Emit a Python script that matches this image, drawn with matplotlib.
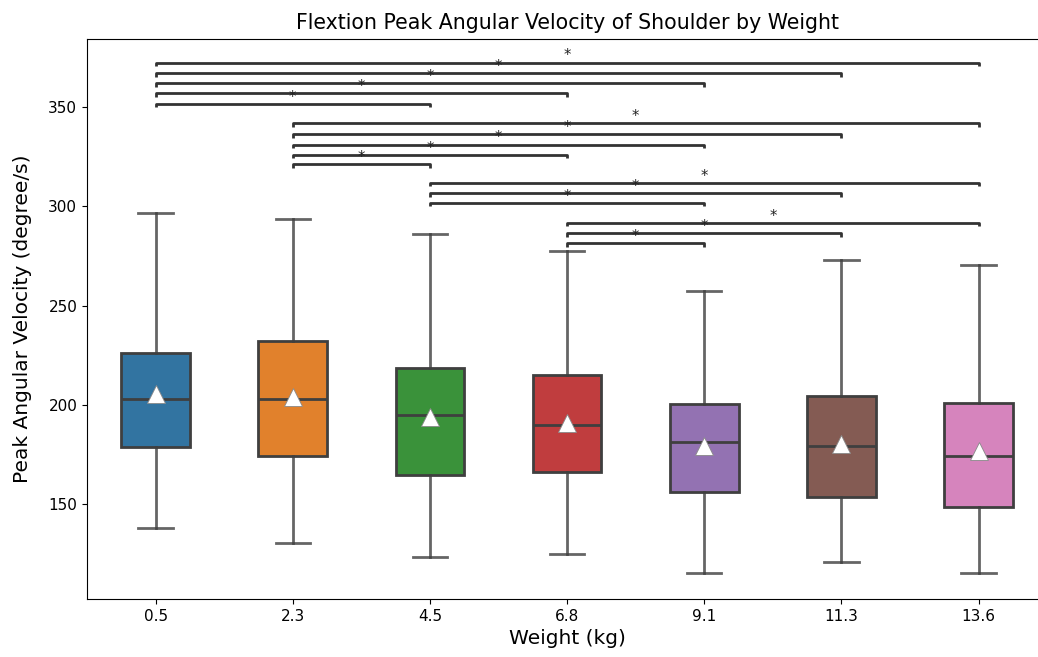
import matplotlib
matplotlib.use("Agg")
import matplotlib.pyplot as plt
import matplotlib.colors as mcolors
import colorsys

# Weight categories (kg)
weights = ["0.5", "2.3", "4.5", "6.8", "9.1", "11.3", "13.6"]

# Box statistics of peak angular velocity (degree/s)
whisker_low = [138.1, 130.4, 123.5, 125.2, 115.6, 120.8, 115.6]
q1 = [179.0, 174.5, 164.9, 166.4, 156.4, 153.5, 148.5]
medians = [203.0, 203.0, 195.1, 189.9, 181.2, 179.5, 174.5]
means = [205.4, 203.9, 194.1, 191.1, 179.5, 180.4, 177.0]
q3 = [226.3, 232.2, 218.5, 215.1, 200.3, 204.5, 200.8]
whisker_high = [296.5, 293.8, 286.1, 277.5, 257.5, 273.0, 270.5]

# Significant pairwise comparisons: (first group, second group, bracket level)
sig_pairs = [
    ("0.5", "4.5", 351.5), ("0.5", "6.8", 356.9), ("0.5", "9.1", 361.9),
    ("0.5", "11.3", 366.9), ("0.5", "13.6", 372.3),
    ("2.3", "4.5", 321.1), ("2.3", "6.8", 325.9), ("2.3", "9.1", 331.1),
    ("2.3", "11.3", 336.3), ("2.3", "13.6", 341.8),
    ("4.5", "9.1", 301.7), ("4.5", "11.3", 306.6), ("4.5", "13.6", 311.7),
    ("6.8", "9.1", 281.4), ("6.8", "11.3", 286.4), ("6.8", "13.6", 291.7),
]


def desaturate(color, prop):
    r, g, b = mcolors.to_rgb(color)
    h, l, s = colorsys.rgb_to_hls(r, g, b)
    return colorsys.hls_to_rgb(h, l, s * prop)


palette = [desaturate(f"C{i}", 0.75) for i in range(len(weights))]
line_gray = "#3f3f3f"

fig = plt.figure(figsize=(10.38, 6.57), dpi=100)
ax = fig.add_axes([0.0838, 0.0883, 0.925, 0.8523])

stats = []
for i, w in enumerate(weights):
    stats.append(dict(label=w, whislo=whisker_low[i], q1=q1[i], med=medians[i],
                      mean=means[i], q3=q3[i], whishi=whisker_high[i], fliers=[]))

positions = list(range(len(weights)))
bp = ax.bxp(stats, positions=positions, widths=0.5, showmeans=True,
            patch_artist=True, showfliers=False,
            boxprops=dict(edgecolor=line_gray, linewidth=2.0),
            whiskerprops=dict(color=line_gray, linewidth=2.0),
            capprops=dict(color=line_gray, linewidth=2.0),
            medianprops=dict(color=line_gray, linewidth=2.0),
            meanprops=dict(marker="^", markerfacecolor="white",
                           markeredgecolor="#888888", markeredgewidth=0.6,
                           markersize=13))
for patch, col in zip(bp["boxes"], palette):
    patch.set_facecolor(col)
for ln in bp["whiskers"] + bp["caps"]:
    ln.set_alpha(0.8)

# Significance brackets
tick_h = 1.7
for a, b, level in sig_pairs:
    x1, x2 = weights.index(a), weights.index(b)
    ax.plot([x1, x1, x2, x2], [level - tick_h, level, level, level - tick_h],
            color="#333333", linewidth=2.0, solid_capstyle="butt")
    ax.annotate("*", xy=((x1 + x2) / 2, level), xytext=(0, -0.5),
                textcoords="offset points", ha="center", va="bottom",
                fontsize=10.5, color="#222222")

ax.set_xlim(-0.5, len(weights) - 0.5)
ax.set_ylim(102.4, 384.2)
ax.set_yticks([150, 200, 250, 300, 350])
ax.set_xticks(positions)
ax.set_xticklabels(weights)
ax.tick_params(labelsize=11)
ax.set_xlabel("Weight (kg)", fontsize=14.5)
ax.set_ylabel("Peak Angular Velocity (degree/s)", fontsize=14.5, labelpad=12)
ax.set_title("Flextion Peak Angular Velocity of Shoulder by Weight",
             fontsize=14.8, pad=7)

fig.savefig("out.png", dpi=100)
